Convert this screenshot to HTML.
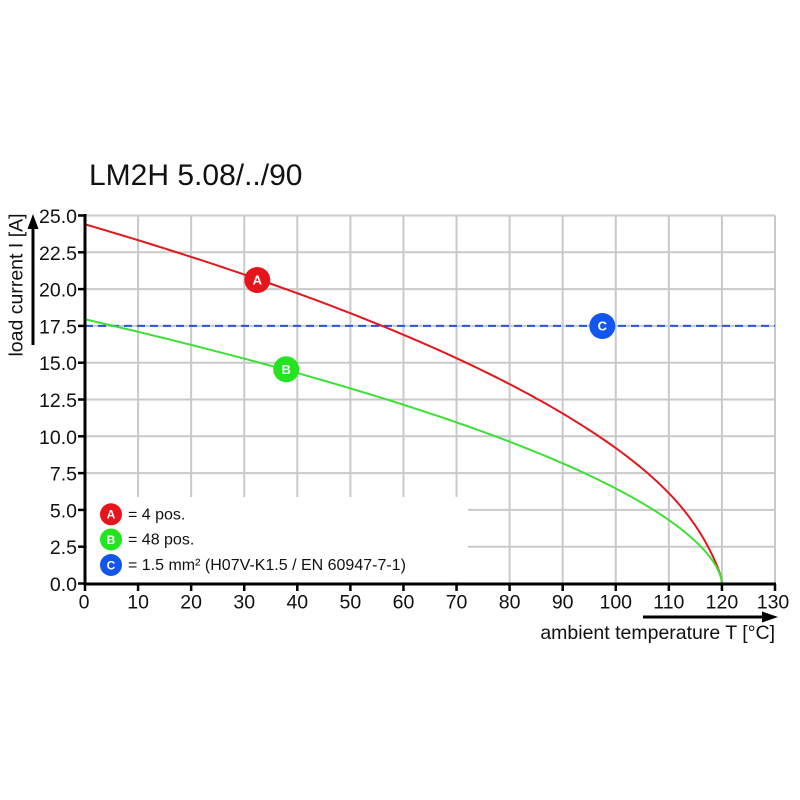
<!DOCTYPE html>
<html><head><meta charset="utf-8">
<style>
html,body{margin:0;padding:0;background:#fff;}
svg{display:block;}
text{font-family:"Liberation Sans",Arial,sans-serif;fill:#111;}
</style></head>
<body>
<svg id="s" width="800" height="800" viewBox="0 0 800 800" xmlns="http://www.w3.org/2000/svg">
<rect width="800" height="800" fill="#fff"/>
<!-- title -->
<text x="89" y="185" font-size="30">LM2H 5.08/../90</text>
<!-- grid -->
<g stroke="#c9c9c9" stroke-width="2">
<line x1="138.08" y1="215.5" x2="138.08" y2="583.5"/>
<line x1="191.15" y1="215.5" x2="191.15" y2="583.5"/>
<line x1="244.23" y1="215.5" x2="244.23" y2="583.5"/>
<line x1="297.31" y1="215.5" x2="297.31" y2="583.5"/>
<line x1="350.38" y1="215.5" x2="350.38" y2="583.5"/>
<line x1="403.46" y1="215.5" x2="403.46" y2="583.5"/>
<line x1="456.54" y1="215.5" x2="456.54" y2="583.5"/>
<line x1="509.62" y1="215.5" x2="509.62" y2="583.5"/>
<line x1="562.69" y1="215.5" x2="562.69" y2="583.5"/>
<line x1="615.77" y1="215.5" x2="615.77" y2="583.5"/>
<line x1="668.85" y1="215.5" x2="668.85" y2="583.5"/>
<line x1="721.92" y1="215.5" x2="721.92" y2="583.5"/>
<line x1="775" y1="215.5" x2="775" y2="583.5"/>
<line x1="85" y1="546.7" x2="775" y2="546.7"/>
<line x1="85" y1="509.9" x2="775" y2="509.9"/>
<line x1="85" y1="473.1" x2="775" y2="473.1"/>
<line x1="85" y1="436.3" x2="775" y2="436.3"/>
<line x1="85" y1="399.5" x2="775" y2="399.5"/>
<line x1="85" y1="362.7" x2="775" y2="362.7"/>
<line x1="85" y1="325.9" x2="775" y2="325.9"/>
<line x1="85" y1="289.1" x2="775" y2="289.1"/>
<line x1="85" y1="252.3" x2="775" y2="252.3"/>
<line x1="85" y1="215.5" x2="775" y2="215.5"/>
</g>
<!-- legend white box -->
<rect x="87" y="497" width="381" height="85" fill="#fff"/>
<!-- blue dashed -->
<line x1="85" y1="325.9" x2="775" y2="325.9" stroke="#2456d6" stroke-width="2" stroke-dasharray="8,5"/>
<!-- curves -->
<path id="red" d="" fill="none" stroke="#e3181e" stroke-width="2" stroke-linejoin="round"/>
<path id="green" d="" fill="none" stroke="#3ddf35" stroke-width="2" stroke-linejoin="round"/>
<!-- axes -->
<g stroke="#000" stroke-width="3">
<line x1="85" y1="214" x2="85" y2="585"/>
<line x1="83.5" y1="584" x2="776" y2="584"/>
</g>
<g stroke="#000" stroke-width="2.5">
<line x1="78" y1="215.5" x2="85" y2="215.5"/>
<line x1="78" y1="252.3" x2="85" y2="252.3"/>
<line x1="78" y1="289.1" x2="85" y2="289.1"/>
<line x1="78" y1="325.9" x2="85" y2="325.9"/>
<line x1="78" y1="362.7" x2="85" y2="362.7"/>
<line x1="78" y1="399.5" x2="85" y2="399.5"/>
<line x1="78" y1="436.3" x2="85" y2="436.3"/>
<line x1="78" y1="473.1" x2="85" y2="473.1"/>
<line x1="78" y1="509.9" x2="85" y2="509.9"/>
<line x1="78" y1="546.7" x2="85" y2="546.7"/>
<line x1="78" y1="583.5" x2="85" y2="583.5"/>
<line x1="85" y1="584" x2="85" y2="591"/>
<line x1="138.08" y1="584" x2="138.08" y2="591"/>
<line x1="191.15" y1="584" x2="191.15" y2="591"/>
<line x1="244.23" y1="584" x2="244.23" y2="591"/>
<line x1="297.31" y1="584" x2="297.31" y2="591"/>
<line x1="350.38" y1="584" x2="350.38" y2="591"/>
<line x1="403.46" y1="584" x2="403.46" y2="591"/>
<line x1="456.54" y1="584" x2="456.54" y2="591"/>
<line x1="509.62" y1="584" x2="509.62" y2="591"/>
<line x1="562.69" y1="584" x2="562.69" y2="591"/>
<line x1="615.77" y1="584" x2="615.77" y2="591"/>
<line x1="668.85" y1="584" x2="668.85" y2="591"/>
<line x1="721.92" y1="584" x2="721.92" y2="591"/>
<line x1="775" y1="584" x2="775" y2="591"/>
</g>
<!-- y tick labels -->
<g font-size="19.5" text-anchor="end">
<text x="77" y="223">25.0</text>
<text x="77" y="259.8">22.5</text>
<text x="77" y="296.6">20.0</text>
<text x="77" y="333.4">17.5</text>
<text x="77" y="370.2">15.0</text>
<text x="77" y="407">12.5</text>
<text x="77" y="443.8">10.0</text>
<text x="77" y="480.6">7.5</text>
<text x="77" y="517.4">5.0</text>
<text x="77" y="554.2">2.5</text>
<text x="77" y="591">0.0</text>
</g>
<!-- x tick labels -->
<g font-size="19.5" text-anchor="middle">
<text x="84" y="608.5">0</text>
<text x="138.08" y="608.5">10</text>
<text x="191.15" y="608.5">20</text>
<text x="244.23" y="608.5">30</text>
<text x="297.31" y="608.5">40</text>
<text x="350.38" y="608.5">50</text>
<text x="403.46" y="608.5">60</text>
<text x="456.54" y="608.5">70</text>
<text x="509.62" y="608.5">80</text>
<text x="562.69" y="608.5">90</text>
<text x="615.77" y="608.5">100</text>
<text x="668.85" y="608.5">110</text>
<text x="721.92" y="608.5">120</text>
<text x="773" y="608.5">130</text>
</g>
<!-- axis labels & arrows -->
<line x1="33" y1="345" x2="33" y2="226" stroke="#000" stroke-width="3"/>
<polygon points="33,214 27.5,229 38.5,229" fill="#000"/>
<text font-size="19.5" text-anchor="middle" transform="translate(22.5,285) rotate(-90)">load current I [A]</text>
<line x1="643" y1="617" x2="764" y2="617" stroke="#000" stroke-width="3"/>
<polygon points="778,617 762,611.5 762,622.5" fill="#000"/>
<text x="775" y="639" font-size="19.5" text-anchor="end">ambient temperature T [°C]</text>
<!-- markers -->
<g font-size="13" font-weight="bold" text-anchor="middle">
<circle cx="257.3" cy="280" r="13" fill="#e8141c"/>
<text x="257.3" y="284.7" style="fill:#fff">A</text>
<circle cx="286.2" cy="369.3" r="13" fill="#22e41f"/>
<text x="286.2" y="374" style="fill:#fff">B</text>
<circle cx="602.3" cy="326" r="13" fill="#1256ee"/>
<text x="602.3" y="330.7" style="fill:#fff">C</text>
</g>
<!-- legend -->
<g font-size="12" font-weight="bold" text-anchor="middle">
<circle cx="111" cy="514.3" r="11" fill="#e8141c"/>
<text x="111" y="518.6" style="fill:#fff">A</text>
<circle cx="111" cy="539.5" r="11" fill="#22e41f"/>
<text x="111" y="543.8" style="fill:#fff">B</text>
<circle cx="111" cy="565" r="11" fill="#1256ee"/>
<text x="111" y="569.3" style="fill:#fff">C</text>
</g>
<g font-size="16">
<text x="128" y="519.5">= 4 pos.</text>
<text x="128" y="544.5">= 48 pos.</text>
<text x="128" y="570">= 1.5 mm² (H07V-K1.5 / EN 60947-7-1)</text>
</g>
</svg>
<script>
(function(){
function X(t){return 85+t*5.3077;}
function Y(i){return 583.5-i*14.72;}
function redI(T){var u=120-T; if(u<=0)return 0; var v=-0.0417*u+1.663*Math.pow(u,0.6); return v*(1-0.3*Math.exp(-u/3));}
function greenI(T){var u=120-T; if(u<=0)return 0; return -0.01567*u+1.1216*Math.pow(u,0.6);}
function path(f){
  var s="",T,first=true,ts=[];
  for(T=0;T<110;T+=1)ts.push(T);
  for(T=110;T<119;T+=0.25)ts.push(T);
  for(T=119;T<=120.0001;T+=0.05)ts.push(Math.min(T,120));
  for(var k=0;k<ts.length;k++){
    s+=(first?"M":"L")+X(ts[k]).toFixed(2)+","+Y(f(ts[k])).toFixed(2);first=false;
  }
  return s;
}
document.getElementById("red").setAttribute("d",path(redI));
document.getElementById("green").setAttribute("d",path(greenI));
})();
</script>
</body></html>
